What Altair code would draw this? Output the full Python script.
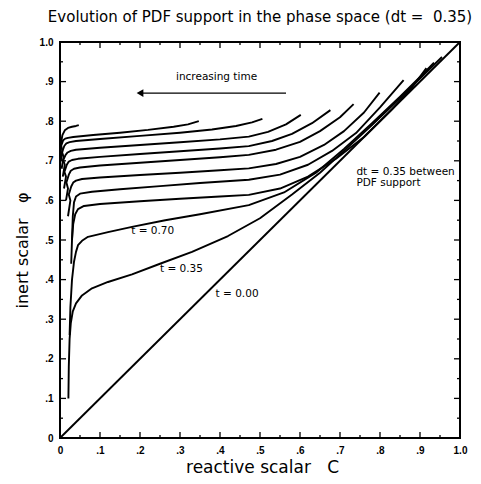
import altair as alt
import pandas as pd

W, H = 400, 396

# ---- data: each PDF-support curve, (reactive scalar C, inert scalar phi) ----
c_035 = [0.021, 0.022, 0.024, 0.027, 0.032, 0.040, 0.055, 0.080, 0.120, 0.180, 0.250, 0.330, 0.420, 0.500, 0.580, 0.650, 0.710, 0.780, 0.850, 0.910, 0.955]
p_035 = [0.100, 0.180, 0.250, 0.290, 0.320, 0.340, 0.360, 0.378, 0.394, 0.413, 0.440, 0.470, 0.510, 0.555, 0.615, 0.670, 0.725, 0.790, 0.858, 0.918, 0.962]

c_070 = [0.024, 0.026, 0.030, 0.035, 0.040, 0.045, 0.055, 0.070, 0.120, 0.180, 0.263, 0.350, 0.472, 0.560, 0.640, 0.710, 0.780, 0.850, 0.900, 0.935]
p_070 = [0.260, 0.330, 0.400, 0.445, 0.470, 0.487, 0.498, 0.508, 0.520, 0.533, 0.550, 0.565, 0.588, 0.620, 0.670, 0.730, 0.795, 0.862, 0.912, 0.948]

c_105 = [0.028, 0.030, 0.033, 0.038, 0.045, 0.060, 0.100, 0.200, 0.300, 0.400, 0.472, 0.550, 0.620, 0.690, 0.760, 0.830, 0.880, 0.916]
p_105 = [0.440, 0.500, 0.540, 0.565, 0.578, 0.586, 0.591, 0.598, 0.604, 0.610, 0.614, 0.630, 0.660, 0.705, 0.760, 0.830, 0.885, 0.934]

c_140 = [0.030, 0.032, 0.035, 0.040, 0.050, 0.080, 0.150, 0.250, 0.350, 0.472, 0.550, 0.620, 0.680, 0.740, 0.800, 0.859]
p_140 = [0.500, 0.560, 0.595, 0.610, 0.617, 0.622, 0.628, 0.636, 0.644, 0.652, 0.665, 0.690, 0.725, 0.770, 0.835, 0.904]

c_175 = [0.020, 0.026, 0.022, 0.028, 0.033, 0.040, 0.055, 0.100, 0.200, 0.300, 0.400, 0.472, 0.540, 0.600, 0.660, 0.710, 0.760, 0.799]
p_175 = [0.560, 0.600, 0.615, 0.635, 0.645, 0.650, 0.654, 0.658, 0.664, 0.670, 0.676, 0.681, 0.692, 0.710, 0.740, 0.775, 0.822, 0.872]

c_210 = [0.015, 0.020, 0.016, 0.022, 0.027, 0.035, 0.050, 0.100, 0.200, 0.300, 0.400, 0.472, 0.540, 0.600, 0.650, 0.700, 0.734]
p_210 = [0.600, 0.630, 0.645, 0.665, 0.675, 0.680, 0.683, 0.688, 0.695, 0.702, 0.709, 0.715, 0.728, 0.748, 0.775, 0.810, 0.843]

c_245 = [0.010, 0.015, 0.011, 0.017, 0.022, 0.030, 0.045, 0.100, 0.200, 0.300, 0.400, 0.472, 0.530, 0.580, 0.630, 0.676]
p_245 = [0.630, 0.660, 0.672, 0.690, 0.698, 0.702, 0.705, 0.710, 0.717, 0.724, 0.731, 0.737, 0.750, 0.768, 0.795, 0.828]

c_280 = [0.007, 0.012, 0.008, 0.014, 0.019, 0.027, 0.040, 0.100, 0.200, 0.300, 0.400, 0.472, 0.520, 0.565, 0.602]
p_280 = [0.660, 0.690, 0.702, 0.715, 0.721, 0.725, 0.728, 0.733, 0.740, 0.747, 0.754, 0.761, 0.773, 0.792, 0.816]

c_315 = [0.004, 0.009, 0.005, 0.011, 0.016, 0.024, 0.040, 0.100, 0.200, 0.300, 0.380, 0.440, 0.480, 0.506]
p_315 = [0.680, 0.710, 0.722, 0.738, 0.744, 0.747, 0.750, 0.755, 0.763, 0.771, 0.779, 0.788, 0.797, 0.806]

c_350 = [0.002, 0.006, 0.003, 0.008, 0.013, 0.020, 0.033, 0.083, 0.150, 0.220, 0.284, 0.320, 0.347]
p_350 = [0.700, 0.725, 0.738, 0.752, 0.756, 0.758, 0.760, 0.765, 0.771, 0.778, 0.786, 0.792, 0.800]

c_385 = [0.001, 0.003, 0.006, 0.012, 0.020, 0.030, 0.040, 0.047]
p_385 = [0.720, 0.748, 0.765, 0.777, 0.783, 0.786, 0.788, 0.790]

c_000 = [0.0, 1.0]
p_000 = [0.0, 1.0]

curves = {
    "t=0.00": (c_000, p_000),
    "t=0.35": (c_035, p_035),
    "t=0.70": (c_070, p_070),
    "t=1.05": (c_105, p_105),
    "t=1.40": (c_140, p_140),
    "t=1.75": (c_175, p_175),
    "t=2.10": (c_210, p_210),
    "t=2.45": (c_245, p_245),
    "t=2.80": (c_280, p_280),
    "t=3.15": (c_315, p_315),
    "t=3.50": (c_350, p_350),
    "t=3.85": (c_385, p_385),
}

major_ticks = [0.0, 0.1, 0.2, 0.3, 0.4, 0.5, 0.6, 0.7, 0.8, 0.9, 1.0]
minor_ticks = [0.05, 0.15, 0.25, 0.35, 0.45, 0.55, 0.65, 0.75, 0.85, 0.95]

label_text = ["t = 0.70", "t = 0.35", "t = 0.00", "dt = 0.35 between", "PDF support", "increasing time"]
label_c = [0.178, 0.250, 0.389, 0.741, 0.741, 0.290]
label_p = [0.523, 0.428, 0.364, 0.672, 0.643, 0.912]

arrow_c = [0.565, 0.200]
arrow_p = [0.871, 0.871]

# ---- build tables ----
rows = []
for name, (cs, ps) in curves.items():
    for i, (c, p) in enumerate(zip(cs, ps)):
        rows.append({"curve": name, "i": i, "C": c, "phi": p})
df = pd.DataFrame(rows)
df_major = pd.DataFrame({"C": major_ticks, "phi": major_ticks})
df_minor = pd.DataFrame({"C": minor_ticks, "phi": minor_ticks})
df_lab = pd.DataFrame({"C": label_c, "phi": label_p, "text": label_text})
df_arrow = pd.DataFrame({"C": arrow_c, "phi": arrow_p})

FONT = "Liberation Sans"
TFONT = "DejaVu Sans"
NB = "\u00a0"
xs = alt.Scale(domain=[0, 1], nice=False, zero=False)
ys = alt.Scale(domain=[0, 1], nice=False, zero=False)
lab_expr = "datum.value == 0 ? '0' : (datum.value > 0.99 ? '1.0' : replace(format(datum.value, '.1f'), '0.', '.'))"

ax_x = alt.Axis(
    values=major_ticks, labelExpr=lab_expr, ticks=False, domain=False, grid=False,
    labelOverlap=False, labelFlush=False, labelBound=False,
    labelFont=FONT, labelFontWeight="bold", labelFontSize=10, labelColor="black",
    labelPadding=7, title="reactive scalar" + NB * 3 + "C", titleFont=TFONT, titleFontSize=17,
    titleFontWeight="normal", titleColor="black", titlePadding=4, titleX=202)
ax_y = alt.Axis(
    values=major_ticks, labelExpr=lab_expr, ticks=False, domain=False, grid=False,
    labelOverlap=False, labelFlush=False, labelBound=False,
    labelFont=FONT, labelFontWeight="bold", labelFontSize=10, labelColor="black",
    labelPadding=7, title="inert scalar" + NB * 3 + "\u03c6", titleFont=TFONT, titleFontSize=16,
    titleFontWeight="normal", titleColor="black", titlePadding=9, titleY=208)

X = lambda: alt.X("C:Q", scale=xs, axis=ax_x)
Y = lambda: alt.Y("phi:Q", scale=ys, axis=ax_y)

lines = alt.Chart(df).mark_line(color="black", strokeWidth=1.9, strokeJoin="round").encode(
    x=X(), y=Y(), detail="curve:N", order="i:Q")

def tick_layers(d, L):
    b = alt.Chart(d).mark_rule(color="black", strokeWidth=1.3).encode(
        x=X(), y=alt.value(H), y2=alt.value(H - L))
    t = alt.Chart(d).mark_rule(color="black", strokeWidth=1.3).encode(
        x=X(), y=alt.value(0), y2=alt.value(L))
    l = alt.Chart(d).mark_rule(color="black", strokeWidth=1.3).encode(
        y=Y(), x=alt.value(0), x2=alt.value(L))
    r = alt.Chart(d).mark_rule(color="black", strokeWidth=1.3).encode(
        y=Y(), x=alt.value(W), x2=alt.value(W - L))
    return [b, t, l, r]

labels = alt.Chart(df_lab).mark_text(align="left", baseline="middle", font=TFONT,
                                     fontSize=10.5, color="black").encode(
    x=X(), y=Y(), text="text:N")

arrow_line = alt.Chart(df_arrow).mark_line(color="black", strokeWidth=1.4).encode(
    x=X(), y=Y())
arrow_head = alt.Chart(df_arrow.iloc[[1]]).mark_point(
    shape="triangle-left", filled=True, color="black", size=60, opacity=1).encode(
    x=X(), y=Y())

chart = alt.layer(lines, *tick_layers(df_major, 6), *tick_layers(df_minor, 3),
                  labels, arrow_line, arrow_head).properties(
    width=W, height=H,
    title=alt.TitleParams("Evolution of PDF support in the phase space (dt =" + NB * 2 + "0.35)",
                          font=TFONT, fontSize=15, fontWeight="normal", color="black",
                          anchor="middle", frame="group", offset=12),
    padding={"left": 60, "top": 42, "right": 21, "bottom": 46},
    autosize=alt.AutoSizeParams(type="none"),
).configure(
    background="white",
    view=alt.ViewConfig(stroke="black", strokeWidth=2),
    axis=alt.AxisConfig(labelOverlap=False),
)

chart.save("out.html", embed_options={"renderer": "svg", "actions": False})
